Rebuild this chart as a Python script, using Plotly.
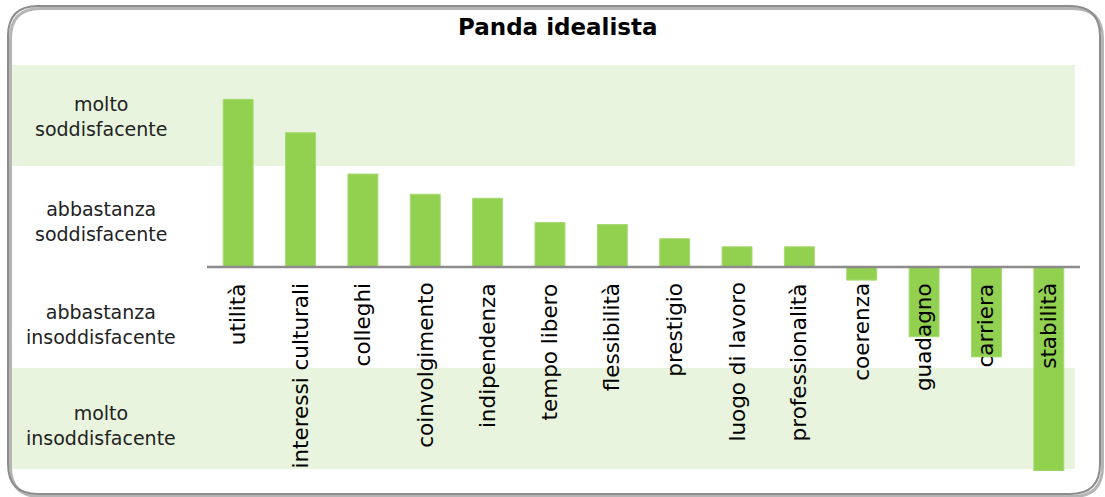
import plotly.graph_objects as go

# Aspetti del lavoro e valutazione media (scala da -2 a +2)
aspetti = [
    "utilità", "interessi culturali", "colleghi", "coinvolgimento",
    "indipendenza", "tempo libero", "flessibilità", "prestigio",
    "luogo di lavoro", "professionalità", "coerenza", "guadagno",
    "carriera", "stabilità",
]
valori = [1.66, 1.33, 0.92, 0.72, 0.68, 0.44, 0.42, 0.28, 0.20, 0.20,
          -0.13, -0.69, -0.89, -2.02]

livelli = ["molto<br>soddisfacente", "abbastanza<br>soddisfacente",
           "abbastanza<br>insoddisfacente", "molto<br>insoddisfacente"]

titolo = "Panda idealista"

W, H = 1105, 497
ML, MR, MT, MB = 207, 25, 65, 26
Y_MIN, Y_MAX = -2.02, 2.0
PW = W - ML - MR
PH = H - MT - MB

VERDE = "#92D050"
FASCIA = "#E8F4DD"
GRIGIO = "#8C8C8C"
FONT = "Verdana, DejaVu Sans, sans-serif"

# centri verticali (pixel) delle etichette dei livelli
centri_livelli_px = [117, 221.5, 324.5, 425]


def px_x(px):
    """pixel orizzontale di pagina -> frazione paper"""
    return (px - ML) / PW


def px_y(py):
    """pixel verticale di pagina -> frazione paper"""
    return (H - MB - py) / PH


fig = go.Figure()
fig.add_trace(go.Bar(
    x=aspetti, y=valori,
    marker=dict(color=VERDE, line=dict(color="#A6DA72", width=1)),
    cliponaxis=False,
    hoverinfo="x+y",
))

shapes = []
# fasce colorate per i livelli estremi
for y0, y1 in [(1.0, 2.0), (-1.0, -2.0)]:
    shapes.append(dict(type="rect", xref="paper", yref="y",
                       x0=px_x(11), x1=px_x(1075), y0=y0, y1=y1,
                       fillcolor=FASCIA, line=dict(width=0), layer="below"))
# linea dello zero
shapes.append(dict(type="line", xref="paper", yref="y", x0=0, x1=1, y0=0, y1=0,
                   line=dict(color=GRIGIO, width=2.5), layer="above"))


def cornice(x0, y0, x1, y1, r):
    # percorso di un rettangolo arrotondato in pixel relativi all'ancora (0,0) del paper
    def X(p):
        return p - ML

    def Y(p):
        return (H - MB) - p
    return (f"M {X(x0 + r)},{Y(y0)} L {X(x1 - r)},{Y(y0)} "
            f"Q {X(x1)},{Y(y0)} {X(x1)},{Y(y0 + r)} "
            f"L {X(x1)},{Y(y1 - r)} Q {X(x1)},{Y(y1)} {X(x1 - r)},{Y(y1)} "
            f"L {X(x0 + r)},{Y(y1)} Q {X(x0)},{Y(y1)} {X(x0)},{Y(y1 - r)} "
            f"L {X(x0)},{Y(y0 + r)} Q {X(x0)},{Y(y0)} {X(x0 + r)},{Y(y0)} Z")


for off, col, w in [(2.5, "#B5B5B5", 3), (0, GRIGIO, 2)]:
    shapes.append(dict(type="path", xref="paper", yref="paper",
                       xsizemode="pixel", ysizemode="pixel", xanchor=0, yanchor=0,
                       path=cornice(8 + off, 6 + off, 1100 + off, 494 + off, 30),
                       line=dict(color=col, width=w), layer="below"))

annotations = []
# etichette delle categorie sotto la linea dello zero
for a in aspetti:
    annotations.append(dict(x=a, y=0, xref="x", yref="y", text=a, showarrow=False,
                            textangle=-90, xanchor="center", yanchor="top", yshift=-14,
                            font=dict(family=FONT, size=21.5, color="#000000")))
# etichette dei livelli a sinistra
for t, c in zip(livelli, centri_livelli_px):
    annotations.append(dict(x=px_x(101), y=px_y(c), xref="paper", yref="paper", text=t,
                            showarrow=False, align="center", xanchor="center",
                            yanchor="middle",
                            font=dict(family=FONT, size=19, color="#222222")))
annotations.append(dict(x=px_x(558), y=px_y(27), xref="paper", yref="paper",
                        text=f"<b>{titolo}</b>", showarrow=False,
                        xanchor="center", yanchor="middle",
                        font=dict(family=FONT, size=23, color="#000000")))

fig.update_layout(
    width=W, height=H,
    margin=dict(l=ML, r=MR, t=MT, b=MB, pad=0),
    paper_bgcolor="white", plot_bgcolor="rgba(0,0,0,0)",
    bargap=0.52,
    showlegend=False,
    xaxis=dict(visible=False, range=[-0.5, len(aspetti) - 0.5]),
    yaxis=dict(visible=False, range=[Y_MIN, Y_MAX]),
    shapes=shapes,
    annotations=annotations,
)

fig.write_html("out.html")
